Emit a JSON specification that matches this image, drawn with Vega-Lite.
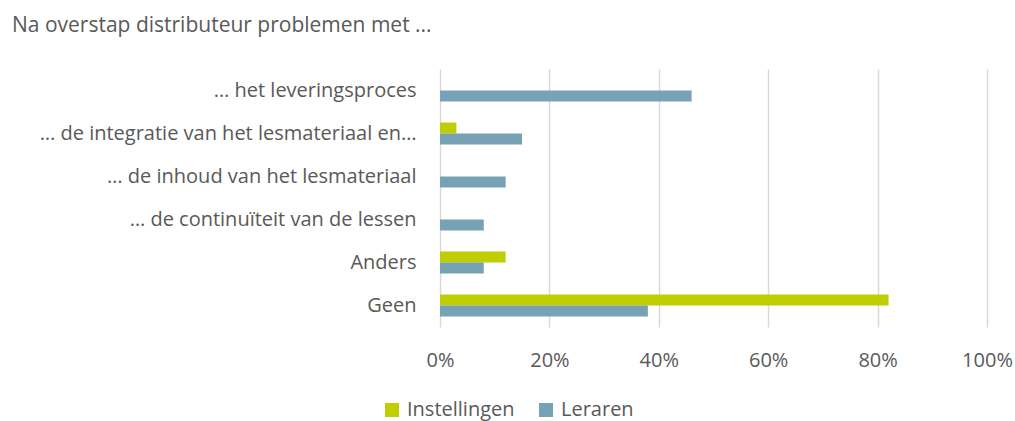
{
  "$schema": "https://vega.github.io/schema/vega-lite/v6.json",
  "autosize": {"type": "none"},
  "width": 547,
  "height": 258,
  "padding": {"left": 440, "top": 69, "right": 28, "bottom": 94},
  "background": "white",
  "title": {
    "text": "Na overstap distributeur problemen met ...",
    "anchor": "start",
    "frame": "group",
    "dx": -428,
    "offset": 33,
    "font": "Open Sans",
    "fontSize": 21,
    "fontWeight": "normal",
    "color": "#595959"
  },
  "data": {
    "values": [
      {"categorie": "… het leveringsproces", "groep": "Instellingen", "waarde": 0},
      {"categorie": "… het leveringsproces", "groep": "Leraren", "waarde": 0.46},
      {"categorie": "… de integratie van het lesmateriaal en…", "groep": "Instellingen", "waarde": 0.03},
      {"categorie": "… de integratie van het lesmateriaal en…", "groep": "Leraren", "waarde": 0.15},
      {"categorie": "… de inhoud van het lesmateriaal", "groep": "Instellingen", "waarde": 0},
      {"categorie": "… de inhoud van het lesmateriaal", "groep": "Leraren", "waarde": 0.12},
      {"categorie": "… de continuïteit van de lessen", "groep": "Instellingen", "waarde": 0},
      {"categorie": "… de continuïteit van de lessen", "groep": "Leraren", "waarde": 0.08},
      {"categorie": "Anders", "groep": "Instellingen", "waarde": 0.12},
      {"categorie": "Anders", "groep": "Leraren", "waarde": 0.08},
      {"categorie": "Geen", "groep": "Instellingen", "waarde": 0.82},
      {"categorie": "Geen", "groep": "Leraren", "waarde": 0.38}
    ]
  },
  "mark": {"type": "bar"},
  "encoding": {
    "y": {
      "field": "categorie",
      "type": "nominal",
      "sort": null,
      "scale": {"paddingInner": 0.49, "paddingOuter": 0.245},
      "axis": {
        "title": null,
        "domain": false,
        "ticks": false,
        "labelFont": "Open Sans",
        "labelFontSize": 20,
        "labelColor": "#595959",
        "labelPadding": 24,
        "labelLimit": 430
      }
    },
    "yOffset": {"field": "groep", "type": "nominal", "sort": ["Instellingen", "Leraren"]},
    "x": {
      "field": "waarde",
      "type": "quantitative",
      "scale": {"domain": [0, 1], "nice": false},
      "axis": {
        "title": null,
        "format": ".0%",
        "values": [0, 0.2, 0.4, 0.6, 0.8, 1],
        "domain": false,
        "ticks": false,
        "grid": true,
        "gridColor": "#d9d9d9",
        "gridWidth": 1.5,
        "labelFont": "Open Sans",
        "labelFontSize": 20,
        "labelColor": "#595959",
        "labelPadding": 23,
        "labelFlush": false
      }
    },
    "color": {
      "field": "groep",
      "type": "nominal",
      "sort": ["Instellingen", "Leraren"],
      "scale": {"domain": ["Instellingen", "Leraren"], "range": ["#bfce00", "#77a1b5"]},
      "legend": {
        "title": null,
        "orient": "none",
        "direction": "horizontal",
        "legendX": -58,
        "legendY": 331,
        "symbolType": "square",
        "symbolSize": 196,
        "symbolStrokeWidth": 0,
        "labelFont": "Open Sans",
        "labelFontSize": 20,
        "labelColor": "#595959",
        "columnPadding": 21,
        "labelOffset": 5
      }
    }
  },
  "config": {"view": {"stroke": null}}
}
